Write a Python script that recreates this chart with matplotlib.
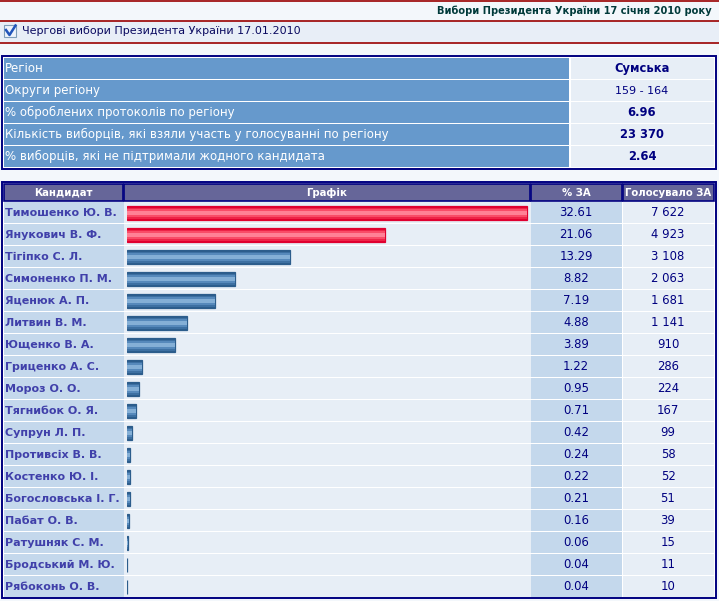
import matplotlib
matplotlib.use("Agg")
import matplotlib.pyplot as plt
from matplotlib.patches import Rectangle

# Page texts
page_title = "Вибори Президента України 17 січня 2010 року"
election_name = "Чергові вибори Президента України 17.01.2010"

# Region summary table
info_labels = ["Регіон", "Округи регіону", "% оброблених протоколів по регіону",
               "Кількість виборців, які взяли участь у голосуванні по регіону",
               "% виборців, які не підтримали жодного кандидата"]
info_values = ["Сумська", "159 - 164", "6.96", "23 370", "2.64"]
info_bold = [True, False, True, True, True]

# Candidate results
header = ["Кандидат", "Графік", "% ЗА", "Голосувало ЗА"]
candidates = ["Тимошенко Ю. В.", "Янукович В. Ф.", "Тігіпко С. Л.", "Симоненко П. М.",
              "Яценюк А. П.", "Литвин В. М.", "Ющенко В. А.", "Гриценко А. С.",
              "Мороз О. О.", "Тягнибок О. Я.", "Супрун Л. П.", "Противсіх В. В.",
              "Костенко Ю. І.", "Богословська І. Г.", "Пабат О. В.", "Ратушняк С. М.",
              "Бродський М. Ю.", "Рябоконь О. В."]
percent = [32.61, 21.06, 13.29, 8.82, 7.19, 4.88, 3.89, 1.22, 0.95, 0.71,
           0.42, 0.24, 0.22, 0.21, 0.16, 0.06, 0.04, 0.04]
votes = ["7 622", "4 923", "3 108", "2 063", "1 681", "1 141", "910", "286", "224",
         "167", "99", "58", "52", "51", "39", "15", "11", "10"]

W, H = 719, 601
plt.rcParams['font.family'] = ['DejaVu Sans']

fig = plt.figure(figsize=(W / 100, H / 100), dpi=100, facecolor='#f3f7fb')
ax = fig.add_axes([0, 0, 1, 1])
ax.set_xlim(0, W)
ax.set_ylim(H, 0)
ax.axis('off')

navy = '#000080'
darkred = '#9a0000'
cell_dark = '#6699cc'
cell_light = '#e7eef6'
cell_blue = '#c4d8ec'
head_bg = '#666699'

def rect(x, y, w, h, fc, ec='none', lw=0, z=1):
    ax.add_patch(Rectangle((x, y), w, h, facecolor=fc, edgecolor=ec, linewidth=lw, zorder=z))

# top header lines
ax.plot([0, W], [0.8, 0.8], color=darkred, lw=1.2)
ax.text(712, 11, page_title, ha='right', va='center', fontsize=7.1,
        fontweight='bold', color='#003a3a')
ax.plot([0, W], [20.5, 20.5], color=darkred, lw=1.2)
rect(0, 21, W, 21, '#e8eef7')
ax.plot([0, W], [42.5, 42.5], color=darkred, lw=1.2)
# checkbox
rect(4, 25, 12, 12, '#eef3fb', ec='#7f9db9', lw=0.8, z=2)
ax.plot([6, 9.5, 15.5], [30, 35, 25.5], color='#2255bb', lw=1.8, zorder=3)
ax.text(22, 31.5, election_name, ha='left', va='center', fontsize=8.0, color='#0a0a60')

# region info table
rect(2, 56, 714, 113, 'white', ec=navy, lw=1.4)
for i, (lab, val) in enumerate(zip(info_labels, info_values)):
    y = 58 + 22 * i
    rect(4, y, 565, 21, cell_dark, z=2)
    rect(571, y, 143, 21, cell_light, z=2)
    ax.text(5, y + 10.5, lab, ha='left', va='center', fontsize=8.5, color='white', zorder=3)
    ax.text(642, y + 10.5, val, ha='center', va='center', fontsize=8.3 if info_bold[i] else 8.0,
            fontweight='bold' if info_bold[i] else 'normal', color=navy, zorder=3)

# candidate table frame and header
top, pitch, n = 182, 22, len(candidates)
rect(2, top, 714, 20 + pitch * n, 'white', ec=navy, lw=1.4)
cols = [(4, 119), (124, 406), (531, 91), (623, 91)]
for (x, w), txt in zip(cols, header):
    rect(x, 184, w, 17, head_bg, ec=navy, lw=1.2, z=2)
    ax.text(x + w / 2, 192.5, txt, ha='center', va='center', fontsize=7.3,
            fontweight='bold', color='white', zorder=3)

row0 = 202
col_fill = [cell_blue, cell_light, cell_blue, cell_light]
for i in range(n):
    y = row0 + pitch * i
    for (x, w), fc in zip(cols, col_fill):
        rect(x, y, w + (1 if w > 100 else 0), 21, fc, z=2)
    ax.text(5, y + 10.5, candidates[i], ha='left', va='center', fontsize=8.0,
            fontweight='bold', color='#4040aa', zorder=3)
    ax.text(576, y + 10.5, f"{percent[i]:.2f}", ha='center', va='center',
            fontsize=8.4, color=navy, zorder=3)
    ax.text(668, y + 10.5, votes[i], ha='center', va='center',
            fontsize=8.4, color=navy, zorder=3)

# bars in their own axes: 32.61% spans 400 px
bar_left, bar_px = 127, 400
span_px = 402
gax = fig.add_axes([bar_left / W, 1 - (row0 + pitch * n) / H, span_px / W, pitch * n / H])
gax.set_xlim(0, max(percent) * span_px / bar_px)
gax.set_ylim(n - 0.5, -0.5)
gax.axis('off')
gax.patch.set_alpha(0)

red_layers = ['#e0002f', '#ee2448', '#f94c68', '#ff8196']
blue_layers = ['#2c5d8c', '#3d70a2', '#5689bb', '#84afd6']
heights = [0.64, 0.5, 0.34, 0.16]
ypos = list(range(n))
for k, h in enumerate(heights):
    colors = [red_layers[k] if i < 2 else blue_layers[k] for i in range(n)]
    gax.barh(ypos, percent, height=h, color=colors, left=0,
             edgecolor=colors if k == 0 else 'none', linewidth=0.9 if k == 0 else 0)

fig.savefig('out.png', dpi=100, facecolor=fig.get_facecolor())
plt.close(fig)
